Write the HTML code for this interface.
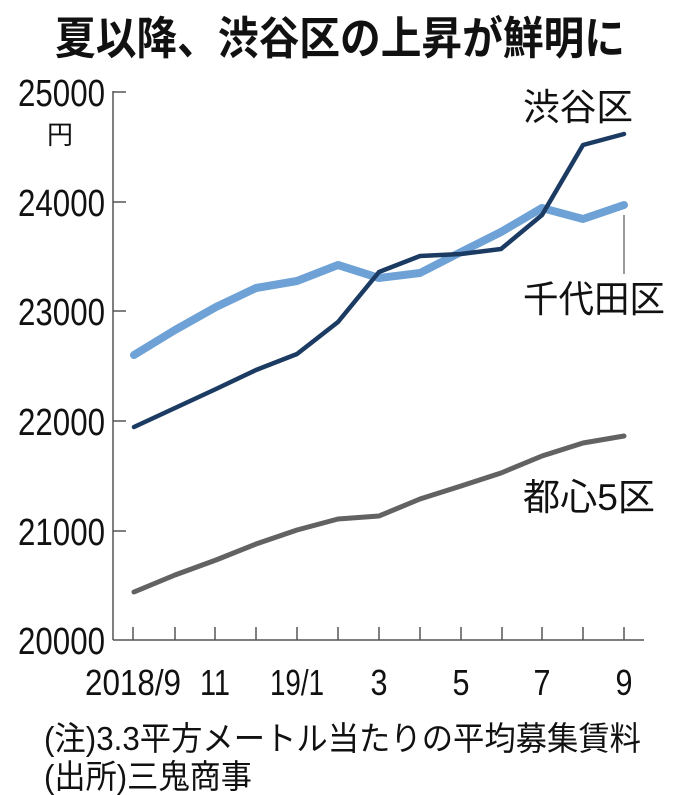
<!DOCTYPE html>
<html><head><meta charset="utf-8"><style>
html,body{margin:0;padding:0;background:#fff;}
svg{display:block;}
text{font-family:"Liberation Sans","Noto Sans CJK JP",sans-serif;fill:#111;}
</style></head><body>
<svg width="680" height="795" viewBox="0 0 680 795" xmlns="http://www.w3.org/2000/svg">
<text x="340" y="54" text-anchor="middle" font-size="45" font-weight="bold" textLength="570" lengthAdjust="spacingAndGlyphs">夏以降、渋谷区の上昇が鮮明に</text>
<g stroke="#555" stroke-width="1.5" fill="none">
<line x1="113" y1="91" x2="113" y2="640"/>
<line x1="113" y1="640" x2="644" y2="640"/>
<line x1="113" y1="92" x2="126" y2="92"/>
<line x1="113" y1="202" x2="126" y2="202"/>
<line x1="113" y1="311" x2="126" y2="311"/>
<line x1="113" y1="421" x2="126" y2="421"/>
<line x1="113" y1="531" x2="126" y2="531"/>
<line x1="133" y1="627" x2="133" y2="640"/><line x1="175" y1="627" x2="175" y2="640"/>
<line x1="215" y1="627" x2="215" y2="640"/><line x1="256" y1="627" x2="256" y2="640"/>
<line x1="297" y1="627" x2="297" y2="640"/><line x1="338" y1="627" x2="338" y2="640"/>
<line x1="379" y1="627" x2="379" y2="640"/><line x1="420" y1="627" x2="420" y2="640"/>
<line x1="461" y1="627" x2="461" y2="640"/><line x1="502" y1="627" x2="502" y2="640"/>
<line x1="542" y1="627" x2="542" y2="640"/><line x1="583" y1="627" x2="583" y2="640"/>
<line x1="624" y1="627" x2="624" y2="640"/>
<line x1="624" y1="215" x2="624" y2="274" stroke-width="1.2"/>
</g>
<g font-size="38" text-anchor="end">
<text x="105" y="106" textLength="87" lengthAdjust="spacingAndGlyphs">25000</text>
<text x="105" y="216" textLength="87" lengthAdjust="spacingAndGlyphs">24000</text>
<text x="105" y="325" textLength="87" lengthAdjust="spacingAndGlyphs">23000</text>
<text x="105" y="435" textLength="87" lengthAdjust="spacingAndGlyphs">22000</text>
<text x="105" y="545" textLength="87" lengthAdjust="spacingAndGlyphs">21000</text>
<text x="105" y="654" textLength="87" lengthAdjust="spacingAndGlyphs">20000</text>
</g>
<text x="47" y="144" font-size="26">円</text>
<g font-size="36" text-anchor="middle">
<text x="133" y="695" textLength="96" lengthAdjust="spacingAndGlyphs">2018/9</text>
<text x="215" y="695" textLength="30" lengthAdjust="spacingAndGlyphs">11</text>
<text x="297" y="695" textLength="54" lengthAdjust="spacingAndGlyphs">19/1</text>
<text x="379" y="695" textLength="17" lengthAdjust="spacingAndGlyphs">3</text>
<text x="461" y="695" textLength="17" lengthAdjust="spacingAndGlyphs">5</text>
<text x="542" y="695" textLength="17" lengthAdjust="spacingAndGlyphs">7</text>
<text x="624" y="695" textLength="17" lengthAdjust="spacingAndGlyphs">9</text>
</g>
<polyline fill="none" stroke="#626262" stroke-width="5" stroke-linejoin="round" stroke-linecap="round"
points="134,592 175,575 216,560 256,544 297,530 338,519 379,516 420,499 461,486 501,473 542,456 583,443 624,436"/>
<polyline fill="none" stroke="#6ea2d6" stroke-width="8" stroke-linejoin="round" stroke-linecap="round"
points="134,355 175,330 216,307 256,288 297,281 338,265 379,278 420,273 461,252 501,232 542,208 583,219 624,205"/>
<polyline fill="none" stroke="#1c3b63" stroke-width="4.5" stroke-linejoin="round" stroke-linecap="round"
points="134,427 175,408 216,389 256,370 297,354 338,322 379,272 420,256 461,254 501,249 542,215 583,145 624,134"/>
<g font-size="37">
<text x="523" y="120" textLength="110" lengthAdjust="spacingAndGlyphs">渋谷区</text>
<text x="523" y="312" textLength="142" lengthAdjust="spacingAndGlyphs">千代田区</text>
<text x="523" y="510" textLength="132" lengthAdjust="spacingAndGlyphs">都心5区</text>
</g>
<g font-size="33">
<text x="44" y="750" textLength="597" lengthAdjust="spacingAndGlyphs">(注)3.3平方メートル当たりの平均募集賃料</text>
<text x="44" y="788" textLength="208" lengthAdjust="spacingAndGlyphs">(出所)三鬼商事</text>
</g>
</svg>
</body></html>
